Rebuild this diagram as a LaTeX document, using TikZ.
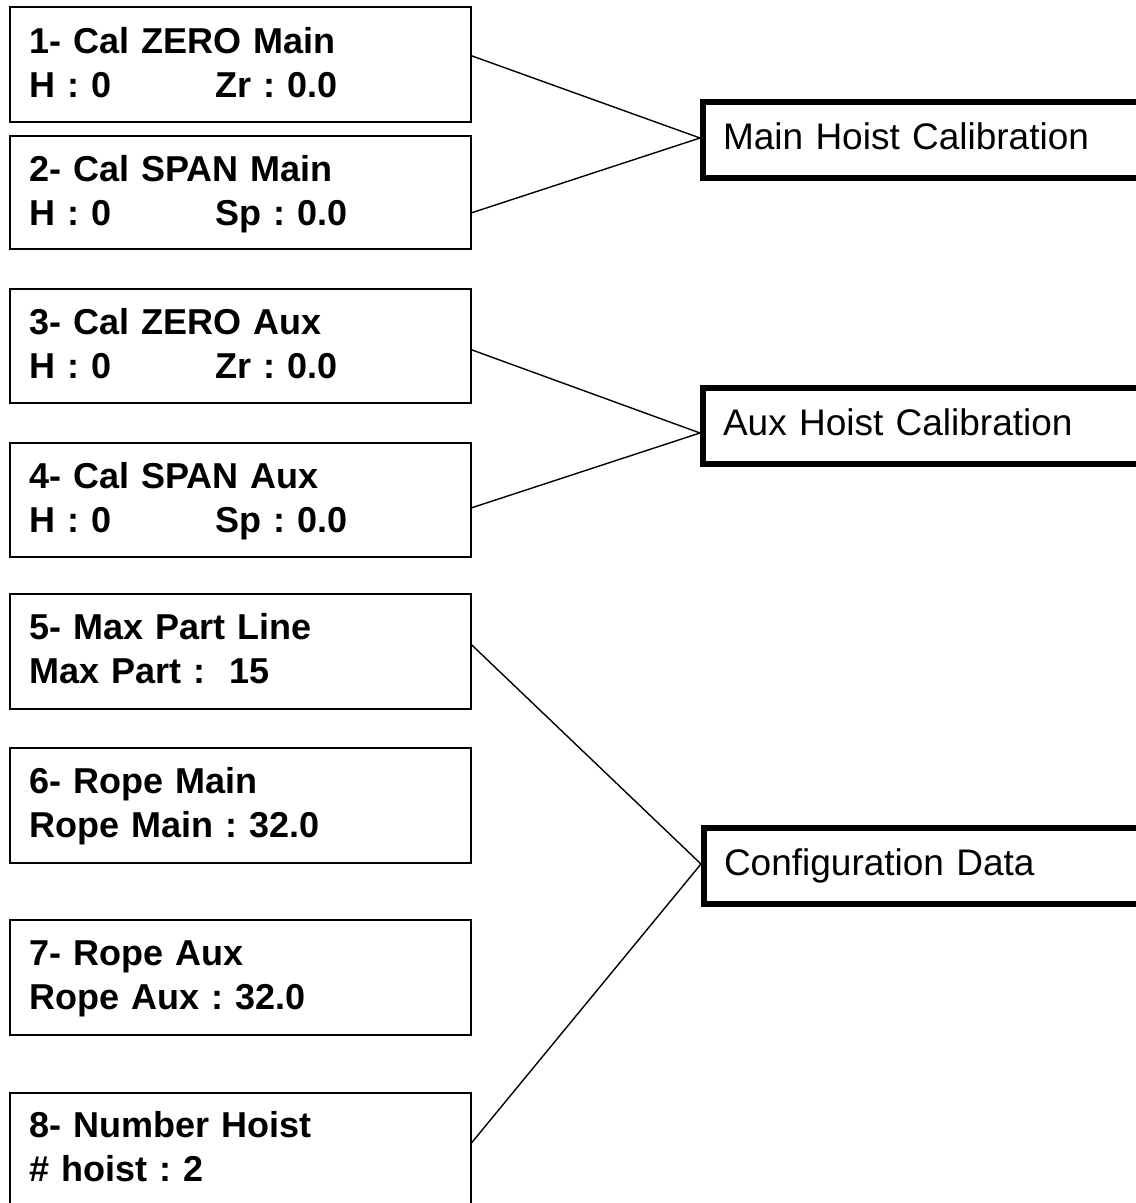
\documentclass[tikz,border=0pt]{standalone}
\usepackage{fontspec}
\setmainfont{Liberation Sans}
\frenchspacing
\begin{document}
\begin{tikzpicture}[x=1pt,y=-1pt,
  leftbox/.style={draw=black,line width=1.6pt,rectangle,inner sep=0pt,anchor=north west,minimum width=461pt},
  lefttext/.style={anchor=base west,inner sep=0pt,text width=430pt,align=left,font=\fontsize{36}{44}\selectfont\bfseries\frenchspacing},
  rightbox/.style={draw=black,line width=6pt,rectangle,anchor=north west,minimum width=440pt,minimum height=76pt,
    inner xsep=20pt,inner ysep=0pt,text width=400pt,align=left,text height=18pt,text depth=0pt,
    font=\fontsize{37}{44}\selectfont\frenchspacing},
  conn/.style={draw=black,line width=1.4pt}]
\useasboundingbox (0,0) rectangle (1136,1203);
% left boxes
\node[leftbox,minimum height=115pt] (b1) at (9,6) {};
\node[leftbox,minimum height=113pt] (b2) at (9,135) {};
\node[leftbox,minimum height=114pt] (b3) at (9,288) {};
\node[leftbox,minimum height=114pt] (b4) at (9,442) {};
\node[leftbox,minimum height=115pt] (b5) at (9,593) {};
\node[leftbox,minimum height=115pt] (b6) at (9,747) {};
\node[leftbox,minimum height=115pt] (b7) at (9,919) {};
\node[leftbox,minimum height=118pt] (b8) at (9,1092) {};
% texts
\node[lefttext] (t1) at ([xshift=20pt,yshift=-47pt]b1.north west) {1- Cal ZERO Main\\\makebox[186pt][l]{H : 0}Zr : 0.0};
\node[lefttext] (t2) at ([xshift=20pt,yshift=-46pt]b2.north west) {2- Cal SPAN Main\\\makebox[186pt][l]{H : 0}Sp : 0.0};
\node[lefttext] (t3) at ([xshift=20pt,yshift=-46pt]b3.north west) {3- Cal ZERO Aux\\\makebox[186pt][l]{H : 0}Zr : 0.0};
\node[lefttext] (t4) at ([xshift=20pt,yshift=-46pt]b4.north west) {4- Cal SPAN Aux\\\makebox[186pt][l]{H : 0}Sp : 0.0};
\node[lefttext] (t5) at ([xshift=20pt,yshift=-46pt]b5.north west) {5- Max Part Line\\Max Part :\ \ 15};
\node[lefttext] (t6) at ([xshift=20pt,yshift=-46pt]b6.north west) {6- Rope Main\\Rope Main : 32.0};
\node[lefttext] (t7) at ([xshift=20pt,yshift=-46pt]b7.north west) {7- Rope Aux\\Rope Aux : 32.0};
\node[lefttext] (t8) at ([xshift=20pt,yshift=-45pt]b8.north west) {8- Number Hoist\\\# hoist : 2};
% right boxes
\node[rightbox] (m) at (700,99) {Main Hoist Calibration};
\node[rightbox] (a) at (700,385) {Aux Hoist Calibration};
\node[rightbox] (c) at (701,825) {Configuration Data};
% connectors
\draw[conn] ([yshift=8.5pt]b1.east) -- ([yshift=2pt]m.west);
\draw[conn] ([yshift=-20.5pt]b2.east) -- ([yshift=2pt]m.west);
\draw[conn] ([yshift=-4pt]b3.east) -- ([yshift=-7pt]a.west);
\draw[conn] ([yshift=-8pt]b4.east) -- ([yshift=-7pt]a.west);
\draw[conn] ([yshift=6.5pt]b5.east) -- ([yshift=2pt]c.west);
\draw[conn] ([yshift=9pt]b8.east) -- ([yshift=2pt]c.west);
\end{tikzpicture}
\end{document}
